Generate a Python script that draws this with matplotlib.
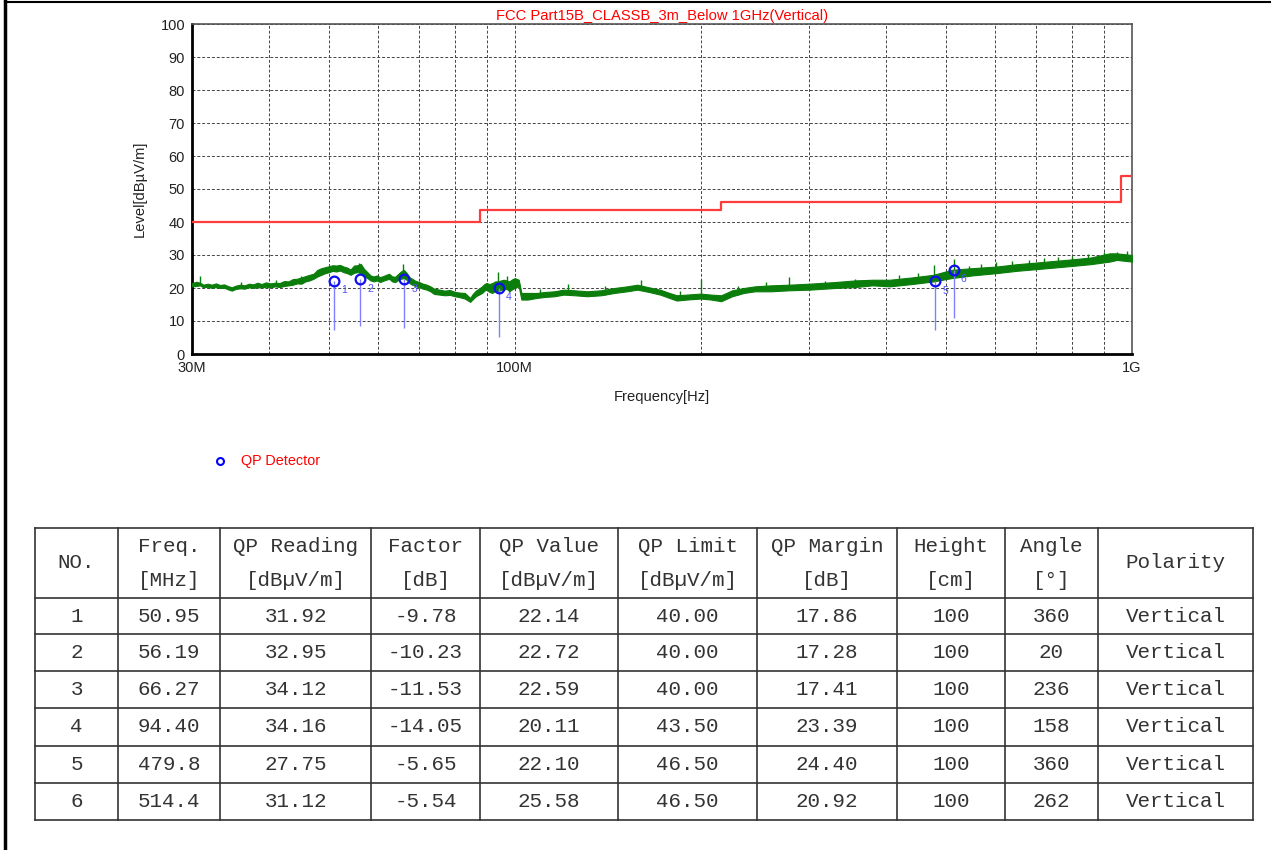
import numpy as np
import matplotlib
matplotlib.use('Agg')
import matplotlib.pyplot as plt

plt.rcParams['font.family'] = ['Liberation Sans', 'DejaVu Sans']

trace_freq = [30.0, 30.5, 30.9, 31.3, 31.8, 32.3, 32.8, 33.3, 33.8, 34.3, 34.8, 35.3,
              35.9, 36.5, 37.1, 37.7, 38.3, 38.9, 39.5, 40.2, 40.9, 41.6, 42.3, 43.0,
              43.7, 44.4, 45.1, 45.8, 46.5, 47.2, 47.9, 48.6, 49.3, 50.0, 50.7, 51.4,
              52.1, 52.8, 53.5, 54.2, 54.9, 55.6, 56.3, 57.0, 57.7, 58.4, 59.1, 59.8,
              60.5, 61.2, 61.9, 62.6, 63.3, 64.0, 64.7, 65.4, 66.1, 66.8, 67.5, 68.2,
              69.0, 70.0, 71.0, 72.0, 73.0, 74.0, 75.5, 77.0, 78.5, 80.0, 81.5, 83.0,
              84.0, 84.7, 85.5, 86.5, 87.5, 88.5, 89.3, 90.0, 91.0, 92.0, 93.0, 94.0,
              95.0, 96.0, 97.0, 98.0, 99.0, 100.0, 101.5, 102.5, 105.0, 108.6, 112.0,
              116.0, 120.0, 125.0, 131.0, 138.0, 145.0, 152.0, 158.0, 165.0, 172.0,
              178.0, 183.0, 190.0, 200.0, 208.0, 216.0, 225.0, 235.0, 245.0, 260.0,
              278.0, 300.0, 330.0, 356.0, 380.0, 405.0, 440.0, 477.0, 510.0, 550.0,
              603.0, 650.0, 708.0, 780.0, 855.0, 920.0, 945.0, 1000.0]
trace_low = [20.5, 20.6, 20.8, 20.2, 20.4, 20.0, 20.3, 20.0, 20.1, 19.6, 19.2, 19.7,
             19.9, 19.8, 20.2, 20.0, 20.3, 20.1, 20.4, 20.2, 20.5, 20.3, 20.6, 20.8,
             21.0, 21.4, 21.3, 22.0, 22.3, 22.8, 23.5, 24.0, 24.5, 24.8, 25.2, 25.0,
             25.3, 24.8, 24.5, 24.0, 24.6, 24.8, 24.5, 23.8, 23.0, 22.3, 22.0, 22.3,
             21.8, 22.2, 22.5, 22.8, 22.0, 21.8, 22.4, 22.8, 23.0, 22.5, 21.5, 21.0,
             20.6, 20.2, 19.8, 19.5, 19.0, 18.2, 18.0, 17.8, 17.9, 17.5, 17.2, 16.8,
             16.2, 15.8, 16.6, 17.5, 18.0, 18.5, 19.2, 19.5, 18.8, 18.5, 19.2, 19.0,
             19.5, 19.5, 19.8, 19.0, 19.6, 20.0, 20.5, 16.5, 16.5, 17.0, 17.3,
             17.5, 18.0, 17.8, 17.5, 17.8, 18.5, 19.0, 19.5, 18.8, 18.0,
             17.0, 16.2, 16.5, 16.8, 16.5, 16.0, 17.5, 18.5, 19.0, 19.0,
             19.3, 19.5, 20.0, 20.3, 20.8, 20.5, 21.2, 22.0, 23.0, 23.8,
             24.5, 25.2, 25.8, 26.5, 27.2, 28.0, 28.5, 28.0]
trace_high = [21.5, 21.9, 21.6, 21.0, 21.3, 21.0, 21.4, 20.9, 21.1, 20.6, 20.2, 20.7,
              21.0, 20.8, 21.3, 21.1, 21.6, 21.2, 21.7, 21.4, 21.6, 21.5, 22.1, 22.0,
              22.7, 22.8, 23.2, 23.6, 24.0, 24.3, 25.5, 26.0, 26.3, 26.6, 26.9, 26.8,
              27.0, 26.5, 26.2, 25.6, 26.8, 26.9, 27.3, 25.8, 24.8, 23.8, 23.5, 23.8,
              23.3, 23.6, 24.0, 24.3, 23.5, 23.4, 24.2, 25.0, 25.5, 24.6, 23.3, 22.8,
              22.2, 21.8, 21.3, 21.0, 20.5, 19.8, 19.5, 19.2, 19.4, 18.8, 18.6, 18.5,
              17.6, 17.0, 18.2, 19.2, 19.8, 20.5, 21.2, 21.5, 21.2, 21.5, 22.0, 22.0,
              22.3, 22.5, 22.3, 22.0, 22.6, 23.0, 22.5, 18.5, 18.5, 18.5, 18.8,
              19.0, 19.5, 19.3, 19.0, 19.3, 20.0, 20.5, 21.0, 20.2, 19.5,
              18.5, 17.8, 18.0, 18.3, 18.0, 17.8, 19.3, 20.0, 20.5, 20.8,
              21.0, 21.3, 21.8, 22.3, 22.5, 22.5, 23.2, 24.0, 25.5, 26.0,
              26.5, 27.2, 27.8, 28.5, 29.2, 30.5, 30.5, 30.0]

# Picos aislados de la traza
spike_freq = [30.9, 36.0, 41.0, 45.0, 56.0, 65.9, 94.1, 97.0, 110.0, 122.0, 140.0,
              160.0, 185.0, 200.0, 230.0, 255.0, 278.0, 318.0, 356.0, 420.0, 450.0,
              477.0, 514.0, 545.0, 570.0, 603.0, 640.0, 680.0, 720.0, 760.0, 800.0,
              850.0, 900.0, 945.0, 980.0]
spike_base = [20.8, 20.0, 20.6, 21.5, 25.0, 23.5, 20.5, 20.5, 17.5, 18.5, 18.0,
              20.0, 16.5, 17.5, 18.0, 19.5, 19.8, 20.5, 21.0, 21.5, 22.0,
              23.0, 24.0, 24.5, 25.0, 25.5, 26.0, 26.5, 27.0, 27.5, 27.8,
              28.0, 28.5, 29.0, 29.0]
spike_peak = [23.7, 21.8, 22.3, 23.5, 27.6, 27.2, 24.8, 23.5, 19.8, 21.3, 20.5,
              22.3, 19.0, 22.8, 20.5, 21.8, 23.2, 22.2, 22.6, 23.8, 24.5,
              27.0, 28.8, 26.8, 27.3, 28.0, 28.2, 28.6, 29.0, 29.5, 29.8,
              30.2, 30.8, 31.0, 31.2]

# Límite FCC clase B
limit_freq = [30, 88, 216, 960, 1000]
limit_level = [40.0, 43.5, 46.0, 54.0, 54.0]

# Tabla de resultados QP
no = [1, 2, 3, 4, 5, 6]
freq_mhz = [50.95, 56.19, 66.27, 94.40, 479.8, 514.4]
qp_reading = [31.92, 32.95, 34.12, 34.16, 27.75, 31.12]
factor = [-9.78, -10.23, -11.53, -14.05, -5.65, -5.54]
qp_value = [22.14, 22.72, 22.59, 20.11, 22.10, 25.58]
qp_limit = [40.00, 40.00, 40.00, 43.50, 46.50, 46.50]
qp_margin = [17.86, 17.28, 17.41, 23.39, 24.40, 20.92]
height = [100, 100, 100, 100, 100, 100]
angle = [360, 20, 236, 158, 360, 262]
polarity = ['Vertical'] * 6
stem_bottom = [7.3, 8.5, 7.9, 5.2, 7.3, 10.9]

headers_top = ['NO.', 'Freq.', 'QP Reading', 'Factor', 'QP Value', 'QP Limit',
               'QP Margin', 'Height', 'Angle', 'Polarity']
headers_bottom = ['', '[MHz]', '[dBµV/m]', '[dB]', '[dBµV/m]', '[dBµV/m]',
                  '[dB]', '[cm]', '[°]', '']

W, H = 1271, 850
fig = plt.figure(figsize=(W / 100, H / 100), dpi=100)

# capa de página (bordes, leyenda y tabla) en píxeles
pg = fig.add_axes([0, 0, 1, 1])
pg.set_xlim(0, W)
pg.set_ylim(H, 0)
pg.axis('off')
pg.plot([5, 5], [1, H], color='black', lw=2.5)
pg.plot([5, W], [1.5, 1.5], color='black', lw=1.5)

pg.plot(220, 461, 'o', mfc='none', mec='blue', mew=1.5, ms=5)
pg.text(241, 461, 'QP Detector', color='red', fontsize=10.4, va='center')

col_x = [35, 118, 220, 371, 480, 618, 757, 897, 1005, 1098, 1253]
row_y = [528, 598, 634, 671, 708, 746, 783, 820]
for x in col_x:
    pg.plot([x, x], [row_y[0], row_y[-1]], color='#333333', lw=1.2)
for y in row_y:
    pg.plot([col_x[0], col_x[-1]], [y, y], color='#333333', lw=1.2)

mono = dict(family='Liberation Mono', fontsize=15, color='#333333',
            ha='center', va='center')
for i in range(10):
    cx = (col_x[i] + col_x[i + 1]) / 2
    if headers_bottom[i]:
        pg.text(cx, 546, headers_top[i], **mono)
        pg.text(cx, 580, headers_bottom[i], **mono)
    else:
        pg.text(cx, 563, headers_top[i], **mono)

for r in range(6):
    cy = (row_y[r + 1] + row_y[r + 2]) / 2
    vals = [str(no[r]), f'{freq_mhz[r]:#.4g}', f'{qp_reading[r]:.2f}', f'{factor[r]:.2f}',
            f'{qp_value[r]:.2f}', f'{qp_limit[r]:.2f}', f'{qp_margin[r]:.2f}',
            str(height[r]), str(angle[r]), polarity[r]]
    for i, v in enumerate(vals):
        cx = (col_x[i] + col_x[i + 1]) / 2
        pg.text(cx, cy, v, **mono)

# gráfico principal
ax = fig.add_axes([192 / W, 1 - 354 / H, 940 / W, 330 / H])
f = np.array(trace_freq) * 1e6
ax.fill_between(f, trace_low, trace_high, color='#0a7d0a', lw=0.8, zorder=3)
ax.vlines(np.array(spike_freq) * 1e6, spike_base, spike_peak, color='#0a7d0a', lw=1.0, zorder=3)
ax.plot(np.array(limit_freq) * 1e6, limit_level, drawstyle='steps-post', color='#ff3b3b', lw=1.6, zorder=4)

mf = np.array(freq_mhz) * 1e6
ax.vlines(mf, stem_bottom, qp_value, color='#8080ff', lw=1.0, zorder=5)
ax.plot(mf, qp_value, 'o', mfc='none', mec='#1010ee', mew=1.6, ms=7, zorder=6)
for n, x, y in zip(no, mf, qp_value):
    ax.annotate(str(n), (x, y), xytext=(5, -9), textcoords='offset points',
                color='#5050ff', fontsize=7.5, zorder=6)

ax.set_xscale('log')
ax.set_xlim(30e6, 1e9)
ax.set_ylim(0, 100)
ax.set_yticks(range(0, 101, 10))
ax.set_xticks([30e6, 100e6, 1e9])
ax.set_xticklabels(['30M', '100M', '1G'])
ax.set_xticks([v * 1e6 for v in [40, 50, 60, 70, 80, 90, 200, 300, 400, 500, 600, 700, 800, 900]], minor=True)
ax.xaxis.set_minor_formatter(matplotlib.ticker.NullFormatter())
ax.tick_params(length=0, labelsize=10.5, colors='#222222', pad=5)
ax.tick_params(which='minor', length=0)
ax.grid(True, which='both', axis='both', color='#444444', ls=(0, (3, 2)), lw=0.7)
for s in ['left', 'bottom']:
    ax.spines[s].set_linewidth(2)
    ax.spines[s].set_color('black')
for s in ['top', 'right']:
    ax.spines[s].set_linewidth(1.2)
    ax.spines[s].set_color('#555555')

ax.set_title('FCC Part15B_CLASSB_3m_Below 1GHz(Vertical)', color='red', fontsize=10.6, pad=3)
ax.set_xlabel('Frequency[Hz]', fontsize=10.6, color='#222222', labelpad=11)
ax.set_ylabel('Level[dBµV/m]', fontsize=10.6, color='#222222', labelpad=10)

fig.savefig('out.png', dpi=100)
